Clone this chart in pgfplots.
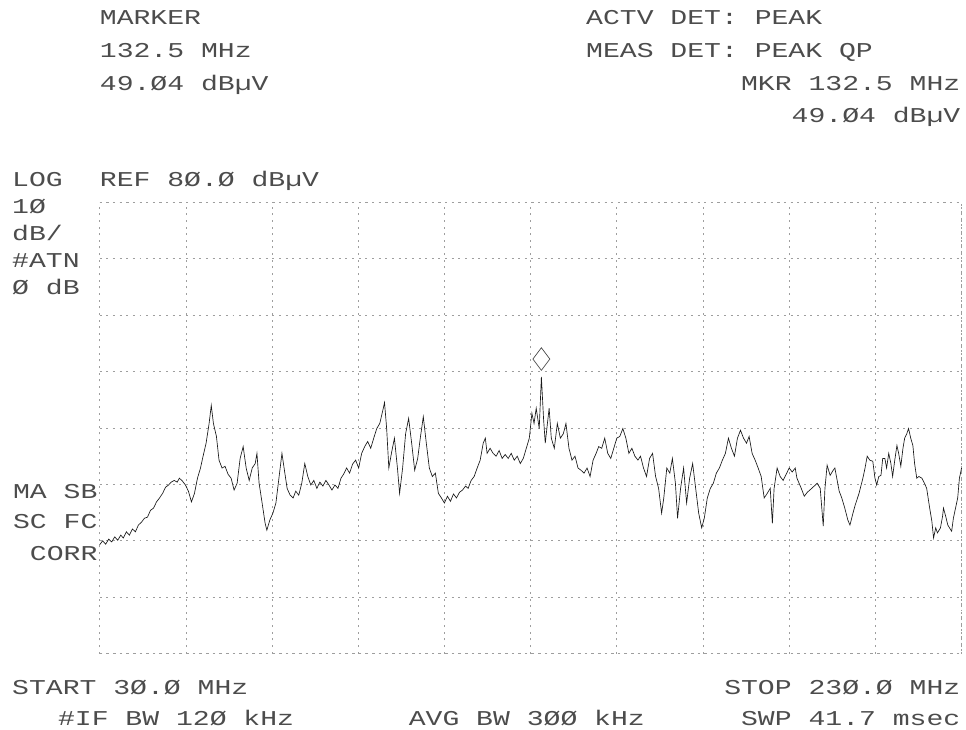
\documentclass[border=0pt]{standalone}
\usepackage{fontspec}
\usepackage{pgfplots}
\pgfplotsset{compat=1.18}
\setmainfont{Liberation Sans}
% plotter-style lettering
\newfontfamily\hp[FakeStretch=1.33]{Liberation Mono}
\newcommand{\hpt}{\hp\fontsize{15.9pt}{18pt}\selectfont}

\begin{document}
\begin{tikzpicture}[x=0.75pt,y=0.75pt]
\path (0,0) rectangle (966,732);
\tikzset{lab/.style={inner sep=0pt, text=black!70, font=\hpt}}

% header
\node[lab, anchor=base west] at (100,707) {MARKER};
\node[lab, anchor=base west] at (100,674) {132.5 MHz};
\node[lab, anchor=base west] at (100,641) {49.Ø4 dBµV};
\node[lab, anchor=base west] at (588,707) {ACTV DET: PEAK};
\node[lab, anchor=base west] at (588,674) {MEAS DET: PEAK QP};
\node[lab, anchor=base east] at (964,641) {MKR 132.5 MHz};
\node[lab, anchor=base east] at (964,609) {49.Ø4 dBµV};

% left annotations
\node[lab, anchor=base west] at (12,545) {LOG};
\node[lab, anchor=base west] at (100,545) {REF 8Ø.Ø dBµV};
\node[lab, anchor=base west] at (12,518) {1Ø};
\node[lab, anchor=base west] at (12,491) {dB/};
\node[lab, anchor=base west] at (12,464) {\#ATN};
\node[lab, anchor=base west] at (12,436) {Ø dB};
\node[lab, anchor=base east] at (98,232) {MA SB};
\node[lab, anchor=base east] at (98,202) {SC FC};
\node[lab, anchor=base east] at (98,170) {CORR};

% footer
\node[lab, anchor=base west] at (12,35) {START 3Ø.Ø MHz};
\node[lab, anchor=base east] at (964,35) {STOP 23Ø.Ø MHz};
\node[lab, anchor=base west] at (58,4) {\#IF BW 12Ø kHz};
\node[lab, anchor=base west] at (410,4) {AVG BW 3ØØ kHz};
\node[lab, anchor=base east] at (964,4) {SWP 41.7 msec};

\begin{axis}[
  at={(75pt,57pt)}, anchor=south west,
  scale only axis, width=648.75pt, height=339.75pt,
  xmin=30, xmax=230, ymin=0, ymax=80,
  xtick={30,50,...,230}, ytick={0,10,...,80},
  xticklabels={}, yticklabels={},
  major tick length=0pt,
  grid=major,
  grid style={black!38, line width=0.5pt, dash pattern=on 1.5pt off 3.5pt},
  axis line style={black!38, line width=0.5pt, dash pattern=on 1.5pt off 3.5pt},
  clip=false,
]
% swept trace, dBuV vs MHz
\addplot[black!90, line width=0.5pt] coordinates {
(30.0,19.3)(30.7,20.0)(31.4,19.4)(32.1,20.3)(32.8,19.8)(33.5,20.7)(34.2,20.1)
(34.9,21.0)(35.5,20.5)(36.2,21.6)(36.9,21.0)(37.6,22.1)(38.3,21.6)(39.0,22.8)
(39.7,23.3)(40.4,24.0)(41.1,24.2)(41.8,25.4)(42.5,25.8)(43.2,26.9)(43.9,27.6)
(44.6,28.4)(45.3,29.5)(46.0,29.9)(46.6,30.4)(47.3,30.7)(48.0,30.4)(48.5,31.1)
(49.2,30.6)(49.9,29.9)(50.6,28.8)(51.3,26.9)(52.0,28.4)(52.7,31.1)(53.4,32.9)
(54.0,35.0)(54.7,37.3)(55.4,40.8)(55.9,44.0)(56.4,40.8)(57.1,38.5)(57.7,34.3)
(58.4,32.9)(59.1,33.2)(59.8,31.8)(60.5,31.1)(61.2,29.0)(61.9,30.2)(62.6,34.6)
(63.3,36.7)(64.0,32.9)(64.7,30.7)(65.4,32.9)(66.1,33.7)(66.5,35.5)(67.0,30.2)
(67.7,26.7)(68.4,23.1)(68.8,21.9)(69.5,23.7)(70.2,24.9)(70.9,26.7)(71.6,31.1)
(72.3,35.5)(72.8,32.9)(73.5,29.3)(74.2,28.1)(74.9,27.6)(75.5,28.8)(76.2,28.1)
(76.9,30.2)(77.6,33.7)(78.3,31.4)(79.0,29.9)(79.7,30.7)(80.4,29.3)(81.1,30.4)
(81.8,29.7)(82.5,30.7)(83.2,29.9)(83.9,29.0)(84.6,29.9)(85.3,29.3)(86.0,31.1)
(86.6,31.8)(87.3,32.9)(88.0,32.0)(88.7,33.6)(89.4,34.3)(90.1,32.9)(90.8,35.5)
(91.5,36.7)(92.2,37.6)(92.9,36.4)(93.6,38.2)(94.3,39.9)(95.0,40.8)(95.7,43.1)
(96.1,44.5)(96.6,39.9)(97.1,32.9)(97.7,35.5)(98.4,38.2)(99.1,32.9)(99.6,28.4)
(100.3,32.9)(101.0,39.0)(101.7,41.7)(102.4,37.3)(103.1,32.5)(103.8,34.6)
(104.4,38.2)(105.1,42.0)(105.8,37.3)(106.5,32.9)(107.2,31.4)(107.9,32.0)
(108.6,28.4)(109.3,27.6)(110.0,26.7)(110.7,27.9)(111.4,27.0)(112.1,28.3)
(112.8,27.6)(113.5,28.6)(114.2,29.0)(114.9,29.7)(115.5,29.3)(116.2,30.7)
(116.9,31.4)(117.6,32.9)(118.3,34.3)(119.0,37.3)(119.5,38.2)(119.9,35.5)
(120.6,36.4)(121.3,35.5)(122.0,35.0)(122.7,36.0)(123.4,34.6)(124.1,35.3)
(124.8,34.6)(125.5,35.5)(126.2,34.3)(126.9,35.0)(127.6,33.7)(128.3,34.6)
(129.0,36.4)(129.7,38.2)(130.3,42.6)(130.8,40.8)(131.3,43.5)(132.0,39.9)
(132.5,49.04)(133.0,41.7)(133.4,37.3)(133.9,40.8)(134.3,43.5)(134.8,38.2)
(135.5,36.4)(136.2,40.8)(136.9,38.2)(137.6,39.0)(138.2,40.8)(138.9,36.4)
(139.6,34.3)(140.3,35.0)(141.0,32.9)(141.7,32.5)(142.4,32.0)(143.1,32.9)
(143.8,31.4)(144.5,34.3)(145.2,35.5)(145.8,36.7)(146.5,36.4)(147.2,38.2)
(147.9,35.5)(148.6,34.6)(149.3,36.4)(150.0,38.2)(150.7,38.5)(151.4,39.9)
(152.1,38.2)(152.8,35.5)(153.5,36.4)(154.2,35.0)(154.9,34.3)(155.5,35.0)
(156.2,32.9)(156.9,31.4)(157.6,34.6)(158.3,35.5)(159.0,31.4)(159.7,29.3)
(160.4,24.9)(160.9,27.6)(161.6,32.9)(162.3,32.0)(162.9,34.6)(163.6,30.2)
(164.1,24.0)(164.8,29.3)(165.5,32.9)(166.2,26.7)(166.9,31.1)(167.6,33.7)
(168.3,29.3)(169.0,24.9)(169.7,22.3)(170.3,24.0)(171.0,27.6)(171.7,29.3)
(172.4,30.2)(173.1,32.0)(173.8,32.9)(174.5,34.3)(175.2,35.5)(175.9,38.2)
(176.6,36.4)(177.3,35.0)(178.0,38.2)(178.7,39.6)(179.4,38.2)(180.1,37.3)
(180.7,38.5)(181.4,35.5)(182.1,34.3)(182.8,32.9)(183.5,31.4)(184.2,27.6)
(184.9,28.4)(185.6,29.3)(186.1,23.1)(186.5,29.3)(187.2,32.9)(187.9,31.4)
(188.6,30.7)(189.3,31.8)(190.0,32.9)(190.7,32.2)(191.4,32.9)(191.8,31.1)
(192.8,29.3)(193.5,27.9)(194.2,28.6)(194.8,29.0)(195.8,29.7)(196.5,30.2)
(197.2,29.3)(197.9,22.6)(198.3,29.3)(198.8,33.4)(199.5,31.6)(200.2,32.5)
(200.6,32.9)(201.6,28.8)(202.2,27.6)(202.9,25.8)(203.6,23.7)(204.1,22.8)
(204.8,24.9)(205.3,26.3)(206.2,28.4)(207.1,31.1)(207.6,32.9)(208.1,35.0)
(208.7,34.3)(209.4,34.1)(209.9,31.1)(210.3,29.9)(210.8,31.4)(211.3,31.6)
(211.7,34.6)(212.2,34.6)(212.6,32.9)(213.1,35.5)(213.6,33.7)(214.0,31.4)
(214.5,34.3)(215.0,36.9)(215.4,35.5)(215.9,33.2)(216.4,36.4)(216.8,38.2)
(217.3,39.0)(217.7,39.9)(218.2,38.2)(218.7,36.9)(219.1,33.7)(219.6,31.1)
(220.1,31.4)(220.8,31.1)(221.4,30.2)(221.9,29.3)(222.6,25.8)(223.1,23.5)
(223.5,20.5)(224.0,22.3)(224.4,21.4)(225.1,22.3)(225.6,24.4)(225.8,25.8)
(226.3,24.4)(226.8,22.8)(227.2,22.3)(227.7,21.7)(228.1,24.0)(228.6,25.8)
(229.1,27.6)(229.5,31.1)(230.0,32.9)
};
% marker symbol above the marked peak
\addplot[only marks, mark=diamond, mark size=8.5pt, black!75,
  mark options={line width=0.5pt, fill=none, yshift=13.5pt}]
  coordinates {(132.5,49.04)};
\end{axis}
\end{tikzpicture}
\end{document}
